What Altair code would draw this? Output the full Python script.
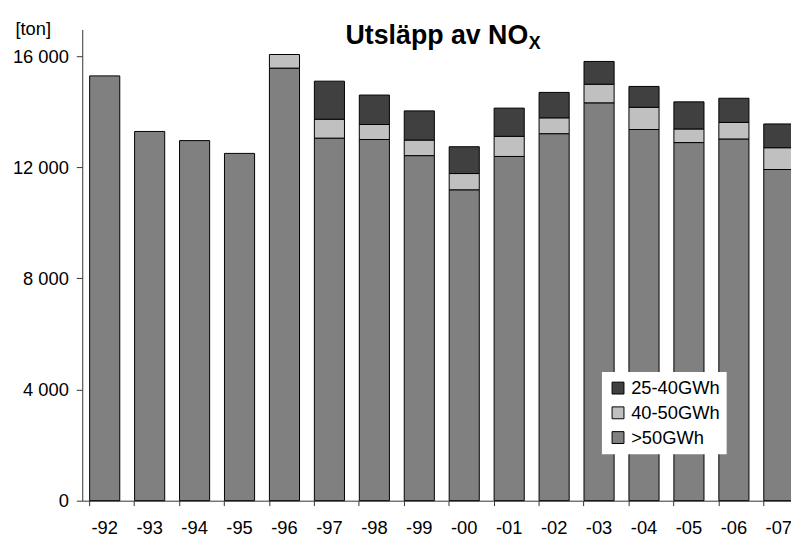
import altair as alt
import pandas as pd

years = ["-92", "-93", "-94", "-95", "-96", "-97", "-98", "-99",
         "-00", "-01", "-02", "-03", "-04", "-05", "-06", "-07"]
gt50 = [15290, 13290, 12960, 12500, 15570, 13050, 13000, 12420,
        11190, 12390, 13210, 14320, 13360, 12890, 13020, 11920]
mid4050 = [0, 0, 0, 0, 490, 680, 540, 560,
           585, 725, 570, 670, 800, 490, 595, 785]
low2540 = [0, 0, 0, 0, 0, 1370, 1060, 1050,
           965, 1015, 915, 820, 750, 975, 870, 855]
series = ["25-40GWh", "40-50GWh", ">50GWh"]
colors = ["#404040", "#c0c0c0", "#808080"]

rows = []
for i, y in enumerate(years):
    for name, vals, o in [(">50GWh", gt50, 0), ("40-50GWh", mid4050, 1), ("25-40GWh", low2540, 2)]:
        if vals[i] > 0:
            rows.append({"year": y, "serie": name, "value": vals[i], "ord": o})
df = pd.DataFrame(rows)

FONT = "Liberation Sans"

bars = alt.Chart(df).mark_bar(stroke="black", strokeWidth=1).encode(
    x=alt.X("year:N", sort=years,
            scale=alt.Scale(domain=years, range=[0, 726.4], paddingInner=0.33, paddingOuter=0.165),
            axis=alt.Axis(title=None, labelAngle=0, bandPosition=0, tickSize=5,
                          labelFontSize=18.5, labelFont=FONT, labelColor="black",
                          labelPadding=13, domainColor="#333", tickColor="#333",
                          grid=False)),
    y=alt.Y("value:Q", stack="zero",
            scale=alt.Scale(domain=[0, 16960], nice=False),
            axis=alt.Axis(title="[ton]", titleAngle=0, titleAlign="center",
                          titleBaseline="alphabetic", titleX=-50, titleY=5,
                          titleFont=FONT, titleFontSize=18.5, titleFontWeight="normal",
                          titleColor="black",
                          values=[0, 4000, 8000, 12000, 16000],
                          labelExpr="replace(format(datum.value, ','), ',', ' ')",
                          labelFontSize=18.5, labelFont=FONT, labelColor="black",
                          labelPadding=8, tickSize=6, domainColor="#333",
                          tickColor="#333", grid=False)),
    color=alt.Color("serie:N",
                    scale=alt.Scale(domain=series, range=colors),
                    legend=alt.Legend(title=None, orient="none", legendX=525, legendY=346,
                                      fillColor="white", padding=7, symbolType="square",
                                      symbolSize=144, symbolStrokeColor="black",
                                      symbolStrokeWidth=1, labelFont=FONT,
                                      labelFontSize=18.5, labelColor="black",
                                      rowPadding=6, labelOffset=4)),
    order=alt.Order("ord:Q", sort="ascending"),
)

title_main = alt.Chart(pd.DataFrame({"t": ["Utsläpp av NO"]})).mark_text(
    font=FONT, fontSize=27, fontWeight="bold", align="left", baseline="alphabetic",
    color="black"
).encode(text="t:N", x=alt.value(266), y=alt.value(15))

title_sub = alt.Chart(pd.DataFrame({"t": ["X"]})).mark_text(
    font=FONT, fontSize=18, fontWeight="bold", align="left", baseline="alphabetic",
    color="black"
).encode(text="t:N", x=alt.value(451), y=alt.value(20))

chart = alt.layer(bars, title_main, title_sub).properties(
    width=716, height=476,
    padding={"left": 75, "top": 19, "right": 0, "bottom": 36},
    autosize=alt.AutoSizeParams(type="none"),
).configure_view(stroke=None)

chart.save("out.html", embed_options={"renderer": "svg", "actions": False})
